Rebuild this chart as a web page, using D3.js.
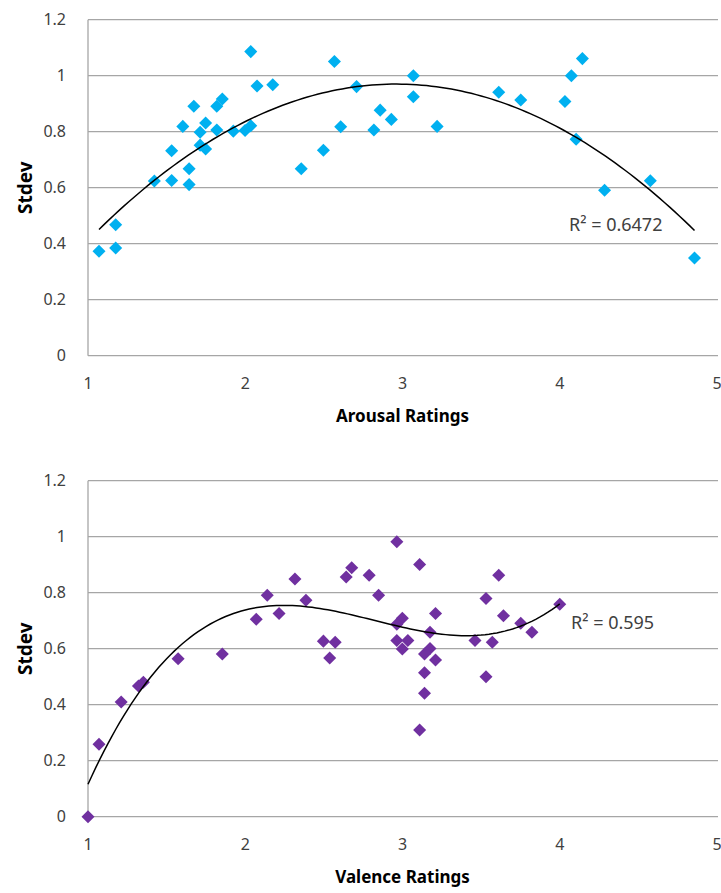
<!DOCTYPE html>
<html><head><meta charset="utf-8">
<script src="https://cdn.jsdelivr.net/npm/d3@7"></script>
<style>body{margin:0;background:#fff}svg{display:block}text{font-family:"Noto Sans",sans-serif;fill:#404040}</style>
</head><body><svg id="c" width="721" height="893"></svg>
<script>
// Arousal chart data
const arousalX = [1.07,1.176,1.176,1.422,1.532,1.532,1.603,1.643,1.643,1.673,1.713,1.713,1.748,1.748,1.819,1.854,1.819,1.924,1.999,2.035,2.035,2.075,2.175,2.356,2.497,2.567,2.607,2.708,2.818,2.858,2.929,3.069,3.069,3.220,3.612,3.752,4.033,4.074,4.144,4.104,4.285,4.576,4.857];
const arousalY = [0.373,0.385,0.468,0.624,0.626,0.732,0.819,0.668,0.611,0.891,0.798,0.752,0.831,0.738,0.891,0.917,0.806,0.802,0.804,0.821,1.086,0.963,0.968,0.668,0.734,1.051,0.818,0.961,0.806,0.877,0.844,1.0,0.925,0.819,0.941,0.913,0.908,1.0,1.061,0.773,0.591,0.625,0.349];
// Valence chart data
const valenceX = [1.0,1.07,1.211,1.321,1.352,1.573,1.854,2.07,2.14,2.215,2.316,2.386,2.497,2.537,2.572,2.642,2.677,2.788,2.848,2.964,3.109,2.999,2.964,2.964,3.034,2.999,3.175,3.21,3.175,3.140,3.21,3.140,3.140,3.109,3.461,3.531,3.612,3.531,3.571,3.642,3.752,3.823,4.0];
const valenceY = [0.0,0.259,0.410,0.467,0.480,0.564,0.581,0.705,0.791,0.726,0.849,0.773,0.627,0.567,0.623,0.856,0.889,0.862,0.791,0.982,0.901,0.709,0.687,0.629,0.629,0.599,0.659,0.726,0.601,0.581,0.560,0.514,0.441,0.310,0.629,0.779,0.862,0.500,0.623,0.718,0.691,0.659,0.759];
// Trendline polynomial coefficients (constant, x, x², x³) as shown in the chart
const arousalTrend = [-0.3031, 0.8602, -0.1453];
const valenceTrend = [-2.018, 3.1657, -1.1698, 0.138];
const xTicks = [1,2,3,4,5];
const yTicks = [0,0.2,0.4,0.6,0.8,1,1.2];
const yTickLabels = ["0","0.2","0.4","0.6","0.8","1","1.2"];
const charts = [
  {xs: arousalX, ys: arousalY, color:"#00b0f0", coef: arousalTrend, xTitle:"Arousal Ratings", r2:"R² = 0.6472", top:19.7, bottom:355.7, r2x:569, r2y:231},
  {xs: valenceX, ys: valenceY, color:"#7030a0", coef: valenceTrend, xTitle:"Valence Ratings", r2:"R² = 0.595", top:480.7, bottom:816.7, r2x:571, r2y:629}
];

const svg = d3.select("#c");
const left=88, right=717;
charts.forEach(ch=>{
  const x = d3.scaleLinear().domain([1,5]).range([left,right]);
  const y = d3.scaleLinear().domain([0,1.2]).range([ch.bottom,ch.top]);
  const g = svg.append("g");
  g.selectAll("line.grid").data(yTicks).join("line")
    .attr("x1",left).attr("x2",right+1).attr("y1",d=>y(d)).attr("y2",d=>y(d))
    .attr("stroke","#a6a6a6").attr("stroke-width",1.3);
  g.append("line").attr("x1",left).attr("x2",left).attr("y1",ch.top).attr("y2",ch.bottom)
    .attr("stroke","#a6a6a6").attr("stroke-width",1.3);
  g.selectAll("text.yt").data(yTicks).join("text")
    .attr("x",66).attr("y",d=>y(d)).attr("dy","0.35em").attr("text-anchor","end")
    .attr("font-size",16).text((d,i)=>yTickLabels[i]);
  g.selectAll("text.xt").data(xTicks).join("text")
    .attr("x",d=>x(d)).attr("y",ch.bottom+28).attr("dy","0.35em").attr("text-anchor","middle")
    .attr("font-size",16).text(d=>d);
  g.append("text").attr("x",402.5).attr("y",ch.bottom+66)
    .attr("text-anchor","middle").attr("font-size",17).attr("font-weight","bold").style("fill","#000").text(ch.xTitle);
  g.append("text").attr("transform",`translate(25,${(ch.top+ch.bottom)/2}) rotate(-90)`).attr("dy","0.35em")
    .attr("text-anchor","middle").attr("font-size",19).attr("font-weight","bold").style("fill","#000").text("Stdev");
  const pts = ch.xs.map((v,i)=>[v,ch.ys[i]]);
  g.selectAll("path.pt").data(pts).join("path")
    .attr("d",d3.symbol(d3.symbolSquare,85))
    .attr("transform",d=>`translate(${x(d[0])},${y(d[1])}) rotate(45)`)
    .attr("fill",ch.color);
  const [xmin,xmax] = d3.extent(ch.xs);
  const curve = d3.range(0,121).map(i=>{const xv=xmin+(xmax-xmin)*i/120; return [xv, ch.coef.reduce((s,c,k)=>s+c*Math.pow(xv,k),0)];});
  g.append("path").datum(curve).attr("fill","none").attr("stroke","#000").attr("stroke-width",1.5)
    .attr("d",d3.line().x(d=>x(d[0])).y(d=>y(d[1])));
  g.append("text").attr("x",ch.r2x).attr("y",ch.r2y).attr("font-size",18).style("fill","#404040").text(ch.r2);
});
</script></body></html>
